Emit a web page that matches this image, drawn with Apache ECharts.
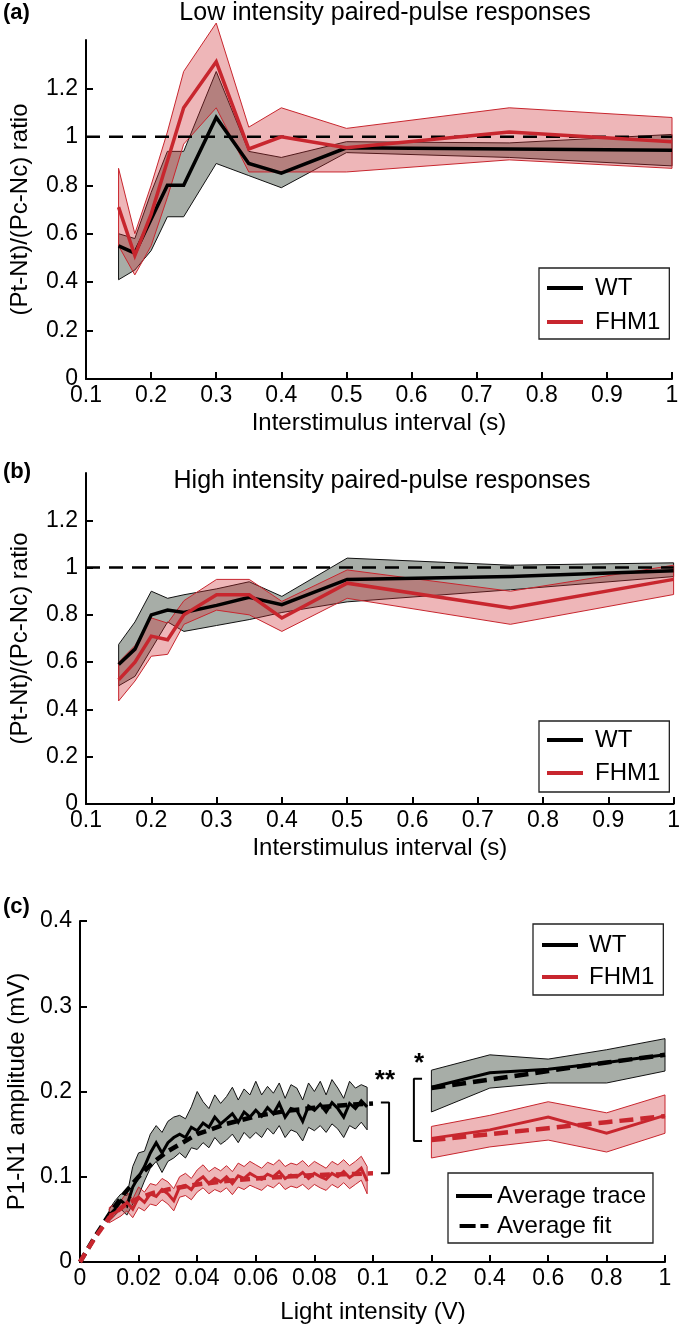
<!DOCTYPE html>
<html><head><meta charset="utf-8">
<script src="https://cdn.jsdelivr.net/npm/echarts@6.0.0/dist/echarts.min.js"></script>
<style>html,body{margin:0;padding:0;background:#fff}#c{width:683px;height:1326px}</style>
</head><body><div id="c"></div><script>
// ---------- DATA ----------
// Panels (a) and (b): interstimulus intervals (s)
const isi = [0.15, 0.175, 0.2, 0.225, 0.25, 0.3, 0.35, 0.4, 0.5, 0.75, 1.0];
// (a) low intensity
const wtA_mean = [0.55, 0.52, 0.66, 0.80, 0.80, 1.08, 0.89, 0.85, 0.955, 0.95, 0.945];
const wtA_lo   = [0.41, 0.45, 0.53, 0.67, 0.67, 0.89, 0.84, 0.79, 0.935, 0.915, 0.88];
const wtA_hi   = [0.60, 0.58, 0.77, 0.94, 0.94, 1.27, 0.94, 0.915, 0.98, 0.975, 1.01];
const faA_mean = [0.71, 0.51, 0.68, 0.90, 1.12, 1.31, 0.95, 1.00, 0.955, 1.02, 0.98];
const faA_lo   = [0.55, 0.43, 0.55, 0.75, 0.97, 1.12, 0.855, 0.855, 0.855, 0.905, 0.87];
const faA_hi   = [0.87, 0.60, 0.80, 1.02, 1.27, 1.47, 1.04, 1.12, 1.035, 1.12, 1.08];
// (b) high intensity
const wtB_mean = [0.59, 0.655, 0.80, 0.82, 0.81, 0.84, 0.874, 0.843, 0.95, 0.962, 0.987];
const wtB_lo   = [0.50, 0.54, 0.655, 0.77, 0.73, 0.755, 0.78, 0.81, 0.855, 0.906, 0.962];
const wtB_hi   = [0.675, 0.77, 0.90, 0.87, 0.885, 0.91, 0.94, 0.878, 1.04, 1.01, 1.02];
const faB_mean = [0.525, 0.60, 0.71, 0.695, 0.80, 0.885, 0.885, 0.787, 0.934, 0.829, 0.95];
const faB_lo   = [0.436, 0.52, 0.625, 0.633, 0.76, 0.82, 0.80, 0.73, 0.87, 0.76, 0.886];
const faB_hi   = [0.60, 0.67, 0.787, 0.765, 0.86, 0.95, 0.95, 0.857, 0.99, 0.90, 1.01];
const refLine = [[0.1, 1], [1.0, 1]];
// (c) left: light intensity 0-0.1 V
const intL = [0.010,0.012,0.014,0.016,0.018,0.020,0.022,0.024,0.026,0.028,0.030,0.032,0.034,0.036,0.038,0.040,0.042,0.044,0.046,0.048,0.050,0.052,0.054,0.056,0.058,0.060,0.062,0.064,0.066,0.068,0.070,0.072,0.074,0.076,0.078,0.080,0.082,0.084,0.086,0.088,0.090,0.092,0.094,0.096,0.098];
const wtL_mean = [0.055,0.062,0.072,0.066,0.088,0.100,0.112,0.128,0.140,0.128,0.140,0.146,0.150,0.146,0.158,0.154,0.163,0.158,0.170,0.162,0.168,0.174,0.164,0.176,0.170,0.178,0.171,0.181,0.174,0.186,0.170,0.180,0.178,0.165,0.183,0.178,0.185,0.176,0.187,0.180,0.170,0.186,0.180,0.189,0.182];
const wtL_hi   = [0.062,0.072,0.080,0.078,0.112,0.128,0.130,0.150,0.160,0.152,0.165,0.170,0.172,0.168,0.182,0.200,0.188,0.180,0.196,0.186,0.194,0.205,0.190,0.203,0.196,0.212,0.196,0.206,0.198,0.210,0.192,0.208,0.204,0.190,0.210,0.200,0.212,0.196,0.214,0.204,0.192,0.212,0.204,0.208,0.205];
const wtL_lo   = [0.048,0.055,0.062,0.055,0.068,0.078,0.095,0.110,0.118,0.105,0.118,0.122,0.128,0.122,0.134,0.132,0.140,0.134,0.146,0.138,0.143,0.150,0.140,0.152,0.145,0.152,0.146,0.157,0.150,0.160,0.146,0.155,0.152,0.142,0.158,0.154,0.160,0.152,0.162,0.156,0.146,0.160,0.156,0.164,0.155];
const faL_mean = [0.055,0.058,0.062,0.070,0.062,0.076,0.070,0.080,0.077,0.085,0.080,0.072,0.088,0.090,0.085,0.095,0.100,0.092,0.098,0.094,0.100,0.092,0.101,0.098,0.104,0.100,0.097,0.103,0.100,0.106,0.098,0.102,0.100,0.105,0.098,0.104,0.100,0.097,0.104,0.100,0.106,0.099,0.104,0.110,0.095];
const faL_hi   = [0.064,0.068,0.072,0.082,0.074,0.088,0.082,0.092,0.090,0.098,0.094,0.086,0.100,0.104,0.098,0.108,0.114,0.106,0.111,0.107,0.113,0.106,0.116,0.112,0.118,0.114,0.110,0.117,0.114,0.120,0.112,0.116,0.114,0.119,0.112,0.118,0.114,0.110,0.118,0.114,0.120,0.113,0.118,0.124,0.112];
const faL_lo   = [0.046,0.050,0.054,0.060,0.052,0.064,0.060,0.068,0.066,0.073,0.068,0.060,0.076,0.078,0.073,0.082,0.087,0.080,0.085,0.082,0.087,0.079,0.088,0.085,0.090,0.087,0.084,0.090,0.087,0.093,0.085,0.089,0.087,0.091,0.085,0.091,0.087,0.084,0.091,0.087,0.093,0.086,0.091,0.096,0.080];
const fitX     = [0, 0.005, 0.01, 0.015, 0.02, 0.025, 0.03, 0.04, 0.05, 0.06, 0.07, 0.08, 0.09, 0.1];
const wtL_fit  = [0, 0.029, 0.056, 0.080, 0.100, 0.117, 0.130, 0.150, 0.162, 0.171, 0.177, 0.181, 0.184, 0.186];
const faL_fit  = [0, 0.028, 0.052, 0.066, 0.075, 0.081, 0.085, 0.091, 0.095, 0.098, 0.100, 0.102, 0.103, 0.104];
// (c) right: light intensity 0.2-1 V
const intR = [0.2, 0.4, 0.6, 0.8, 1.0];
const wtR_mean = [0.205, 0.222, 0.226, 0.234, 0.243];
const wtR_lo   = [0.176, 0.204, 0.210, 0.210, 0.224];
const wtR_hi   = [0.225, 0.243, 0.238, 0.249, 0.262];
const wtR_fit  = [0.204, 0.214, 0.224, 0.234, 0.243];
const faR_mean = [0.145, 0.155, 0.170, 0.151, 0.172];
const faR_lo   = [0.122, 0.135, 0.143, 0.129, 0.151];
const faR_hi   = [0.159, 0.172, 0.188, 0.175, 0.196];
const faR_fit  = [0.143, 0.150, 0.157, 0.164, 0.171];
// significance brackets (in the right-hand axis units, which start at the 0.1 V tick)
const bracketL = [[0.027, 0.187], [0.055, 0.187], [0.055, 0.104], [0.027, 0.104]];
const bracketR = [[0.168, 0.215], [0.14, 0.215], [0.14, 0.142], [0.168, 0.142]];
const starL = {text: '**', x: 0.041, y: 0.212};
const starR = {text: '*', x: 0.158, y: 0.232};
// tick labels
const ticksISI = [0.1,0.2,0.3,0.4,0.5,0.6,0.7,0.8,0.9,1];
const ticksRatio = [0,0.2,0.4,0.6,0.8,1,1.2];
const ticksAmp = [0,0.1,0.2,0.3,0.4];
const ticksLowV = [0,0.02,0.04,0.06,0.08,0.1];
const ticksHighV = [0.2,0.4,0.6,0.8,1];

// ---------- STYLE ----------
const FONT = '"Liberation Sans", Arial, Helvetica, sans-serif';
const RED = '#C8262E';
const RED_FILL = 'rgba(205,40,48,0.34)';
const GRAY_FILL = 'rgba(80,92,80,0.5)';

function fmt(v){ return String(+(+v).toFixed(4)); }
function xAx(gi, min, max, ticks, name, nameGap){
  return {type:'value', gridIndex:gi, min, max,
    axisLine:{show:true, onZero:false, lineStyle:{color:'#000', width:2}},
    axisTick:{show:true, inside:true, length:7, lineStyle:{color:'#000', width:2}, customValues:ticks},
    axisLabel:{show:true, customValues:ticks, color:'#000', fontSize:23, fontFamily:FONT, margin:5, formatter:fmt},
    splitLine:{show:false},
    name:name||'', nameLocation:'middle', nameGap:nameGap||30,
    nameTextStyle:{fontSize:24, color:'#000', fontFamily:FONT}};
}
function yAx(gi, min, max, ticks, name, nameGap, show){
  return {type:'value', gridIndex:gi, min, max, show: show!==false,
    axisLine:{show:true, onZero:false, lineStyle:{color:'#000', width:2}},
    axisTick:{show:true, inside:true, length:7, lineStyle:{color:'#000', width:2}, customValues:ticks},
    axisLabel:{show:true, customValues:ticks, color:'#000', fontSize:23, fontFamily:FONT, margin:8, formatter:fmt},
    splitLine:{show:false},
    name:name||'', nameLocation:'middle', nameGap:nameGap||54,
    nameTextStyle:{fontSize:24, color:'#000', fontFamily:FONT}};
}
function band(gi, xs, lo, hi, fill, stroke){
  return {type:'custom', xAxisIndex:gi, yAxisIndex:gi, silent:true, clip:false,
    data: xs.map((x,i)=>[x, lo[i], hi[i]]),
    encode:{x:0, y:[1,2]},
    renderItem:(params, api)=>{
      if (params.dataIndex !== 0) return null;
      const pts=[];
      for (let i=0;i<xs.length;i++) pts.push(api.coord([xs[i], hi[i]]));
      for (let i=xs.length-1;i>=0;i--) pts.push(api.coord([xs[i], lo[i]]));
      return {type:'polygon', shape:{points:pts}, style:{fill:fill, stroke:stroke, lineWidth:1}};
    }};
}
function line(gi, name, xs, ys, color, width, dash){
  return {type:'line', name:name, xAxisIndex:gi, yAxisIndex:gi,
    data: xs.map((x,i)=>[x, ys[i]]), symbol:'none', showSymbol:false, silent:true, clip:false,
    lineStyle:{color:color, width:width, type: dash||'solid', cap:'butt', join:'miter'},
    itemStyle:{color:color}, emphasis:{disabled:true}, animation:false};
}
function pairLine(gi, pts, color, width, dash){
  return {type:'line', xAxisIndex:gi, yAxisIndex:gi, data:pts, symbol:'none', showSymbol:false,
    silent:true, clip:false, lineStyle:{color:color, width:width, type:dash||'solid', cap:'butt'},
    itemStyle:{color:color}, emphasis:{disabled:true}};
}
function legend(names, left, top, padding, gap, textPad, icons){
  return {show:true, orient:'vertical', left:left, top:top, padding:padding, itemGap:gap,
    itemWidth:36, itemHeight:4, selectedMode:false, borderColor:'#222', borderWidth:1.3,
    backgroundColor:'#fff', itemStyle:{borderWidth:0},
    data: names.map((n,i)=>({name:n, icon: icons ? icons[i] : 'rect'})),
    textStyle:{fontSize:24, fontFamily:FONT, color:'#000', lineHeight:26, padding:[0,0,0,textPad]}};
}

const series = [
  // (a)
  band(0, isi, wtA_lo, wtA_hi, GRAY_FILL, '#111'),
  line(0, 'WT', isi, wtA_mean, '#000', 3.5),
  band(0, isi, faA_lo, faA_hi, RED_FILL, RED),
  pairLine(0, refLine, '#000', 2.5, [14, 9]),
  line(0, 'FHM1', isi, faA_mean, RED, 3.5),
  // (b)
  band(1, isi, wtB_lo, wtB_hi, GRAY_FILL, '#111'),
  line(1, 'WT', isi, wtB_mean, '#000', 3.5),
  band(1, isi, faB_lo, faB_hi, RED_FILL, RED),
  pairLine(1, refLine, '#000', 2.5, [14, 9]),
  line(1, 'FHM1', isi, faB_mean, RED, 3.5),
  // (c) left
  band(2, intL, wtL_lo, wtL_hi, GRAY_FILL, '#111'),
  line(2, 'WT', intL, wtL_mean, '#000', 3),
  line(2, 'WT fit', fitX, wtL_fit, '#000', 4.5, [10, 6]),
  band(2, intL, faL_lo, faL_hi, RED_FILL, RED),
  line(2, 'FHM1', intL, faL_mean, RED, 3),
  line(2, 'FHM1 fit', fitX, faL_fit, RED, 4.5, [10, 6]),
  // (c) right
  band(3, intR, wtR_lo, wtR_hi, GRAY_FILL, '#111'),
  line(3, 'WT', intR, wtR_mean, '#000', 3),
  line(3, 'WT fit', intR, wtR_fit, '#000', 4.5, [14, 7]),
  band(3, intR, faR_lo, faR_hi, RED_FILL, RED),
  line(3, 'FHM1', intR, faR_mean, RED, 3),
  line(3, 'FHM1 fit', intR, faR_fit, RED, 4.5, [14, 7]),
  pairLine(3, bracketL, '#000', 2),
  pairLine(3, bracketR, '#000', 2),
  // legend-only entries
  line(2, 'Average trace', [], [], '#000', 4),
  line(2, 'Average fit', [], [], '#000', 4, [12, 6])
];

const chart = echarts.init(document.getElementById('c'), null, {renderer:'canvas'});
const option = {
  animation:false,
  backgroundColor:'#fff',
  textStyle:{fontFamily:FONT},
  grid:[
    {left:83, top:40, width:589, height:339},
    {left:83, top:473, width:596, height:331},
    {left:80, top:921, width:293, height:341},
    {left:373, top:921, width:292, height:341}
  ],
  xAxis:[
    xAx(0, 0.1, 1.0, ticksISI, 'Interstimulus interval (s)', 32),
    xAx(1, 0.1, 1.0, ticksISI, 'Interstimulus interval (s)', 32),
    xAx(2, 0, 0.1, ticksLowV),
    xAx(3, 0, 1, ticksHighV)
  ],
  yAxis:[
    yAx(0, 0, 1.4, ticksRatio, '(Pt-Nt)/(Pc-Nc) ratio', 54),
    yAx(1, 0, 1.4, ticksRatio, '(Pt-Nt)/(Pc-Nc) ratio', 54),
    yAx(2, 0, 0.4, ticksAmp, 'P1-N1 amplitude (mV)', 51),
    yAx(3, 0, 0.4, ticksAmp, '', 0, false)
  ],
  legend:[
    legend(['WT','FHM1'], 539, 268, [7,9,4,8], 8, 7),
    legend(['WT','FHM1'], 539, 721, [6,9,6,8], 7, 7),
    legend(['WT','FHM1'], 533, 924, [8,9,5,9], 6, 6),
    legend(['Average trace','Average fit'], 448, 1173, [10,7,4,8], 4, 0,
      ['rect', 'path://M0,0H20V5H0Z M26,0H36V5H26Z'])
  ],
  series: series
};
chart.setOption(option);

const pL = chart.convertToPixel({xAxisIndex:3, yAxisIndex:3}, [starL.x, starL.y]);
const pR = chart.convertToPixel({xAxisIndex:3, yAxisIndex:3}, [starR.x, starR.y]);
function txt(text, x, y, size, weight, align){
  return {type:'text', x:x, y:y, silent:true,
    style:{text:text, fill:'#000', fontSize:size, fontWeight:weight||'normal', fontFamily:FONT,
      align:align||'center', verticalAlign:'middle'}};
}
chart.setOption({graphic:[
  txt('(a)', 3, 13, 22, 'bold', 'left'),
  txt('Low intensity paired-pulse responses', 385, 13, 25),
  txt('(b)', 3, 472, 22, 'bold', 'left'),
  txt('High intensity paired-pulse responses', 382, 481, 25),
  txt('(c)', 3, 907, 22, 'bold', 'left'),
  txt('Light intensity (V)', 373, 1312, 24),
  txt(starL.text, pL[0], pL[1], 26, 'bold'),
  txt(starR.text, pR[0], pR[1], 26, 'bold')
]});
</script></body></html>
